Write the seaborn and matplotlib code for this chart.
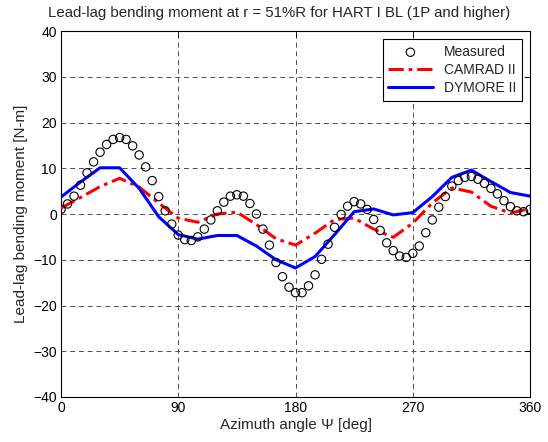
import numpy as np
import pandas as pd
import matplotlib
matplotlib.use("Agg")
import matplotlib.pyplot as plt
import seaborn as sns

# Measured lead-lag bending moment, every 5 deg of azimuth
measured_psi = list(range(0, 361, 5))
measured_moment = [
    1.0, 2.2, 3.9, 6.3, 9.0, 11.4, 13.5, 15.2, 16.3, 16.7,
    16.3, 14.9, 12.9, 10.3, 7.3, 3.8, 0.7, -2.2, -4.6, -5.6,
    -5.8, -5.0, -3.3, -1.3, 0.7, 2.6, 3.9, 4.2, 3.9, 2.3,
    0.0, -3.3, -6.8, -10.6, -13.7, -16.0, -17.2, -17.2, -15.7, -13.3,
    -9.9, -6.6, -2.9, -0.1, 1.7, 2.7, 2.2, 1.0, -1.2, -3.6,
    -6.3, -8.0, -9.2, -9.5, -8.6, -7.0, -4.1, -1.3, 1.5, 3.8,
    6.1, 7.3, 8.0, 8.2, 7.6, 6.7, 5.6, 4.4, 2.9, 1.6,
    0.7, 0.5, 1.0,
]

# Predictions, every 15 deg of azimuth
pred_psi = list(range(0, 361, 15))
camrad = [
    1.3, 3.6, 6.0, 7.8, 5.9, 2.4, -0.9, -1.8, 0.0, 0.4,
    -2.3, -5.4, -6.8, -4.2, -1.2, -0.9, -3.3, -5.1, -2.0, 2.4,
    5.7, 4.8, 1.7, 0.2, 1.2,
]
dymore = [
    3.7, 7.0, 10.1, 10.1, 5.6, -0.6, -4.5, -5.5, -4.7, -4.7,
    -7.0, -10.0, -11.8, -9.3, -4.5, 0.5, 1.1, -0.2, 0.3, 3.8,
    8.0, 9.6, 7.1, 4.7, 3.9,
]

x_ticks = [0, 90, 180, 270, 360]
y_ticks = list(range(-40, 41, 10))

sns.set_style("white")
plt.rcParams["font.family"] = ["Liberation Sans", "DejaVu Sans"]
plt.rcParams["mathtext.fontset"] = "dejavusans"

fig = plt.figure(figsize=(5.48, 4.42), dpi=100)
ax = fig.add_axes([61 / 548, 1 - 397 / 442, 469 / 548, 366 / 442])

meas_df = pd.DataFrame({"psi": measured_psi, "moment": measured_moment})
pred_df = pd.DataFrame({"psi": pred_psi, "camrad": camrad, "dymore": dymore})

sns.scatterplot(data=meas_df, x="psi", y="moment", ax=ax, marker="o", s=36,
                facecolors="none", edgecolor="black", linewidth=0.8,
                label="Measured", zorder=4)
sns.lineplot(data=pred_df, x="psi", y="camrad", ax=ax, color="#ff0000",
             linewidth=2.2, linestyle=(0, (5.0, 1.6, 1.2, 1.6)),
             label="CAMRAD II", zorder=3)
sns.lineplot(data=pred_df, x="psi", y="dymore", ax=ax, color="#0000ff",
             linewidth=2.2, label="DYMORE II", zorder=3)

ax.set_xlim(0, 360)
ax.set_ylim(-40, 40)
ax.set_xticks(x_ticks)
ax.set_yticks(y_ticks)
ax.tick_params(direction="in", length=4, width=0.6, top=True, right=True,
               labelsize=10, colors="black", pad=3)
ax.grid(True, linestyle=(0, (5, 4)), color="0.3", linewidth=0.7)
ax.set_axisbelow(True)
for side in ax.spines.values():
    side.set_visible(True)
    side.set_color("black")
    side.set_linewidth(0.8)

fig.text(279 / 548, 1 - 13 / 442,
         "Lead-lag bending moment at r = 51%R for HART I BL (1P and higher)",
         fontsize=10.8, ha="center", va="center")
ax.set_xlabel("Azimuth angle Ψ [deg]", fontsize=11, labelpad=2)
ax.set_ylabel("Lead-lag bending moment [N-m]", fontsize=11, labelpad=4)

leg = ax.legend(loc="upper right", fontsize=10, frameon=True, fancybox=False,
                edgecolor="black", framealpha=1, borderaxespad=0.6,
                handlelength=3.2, borderpad=0.4, labelspacing=0.3)
leg.get_frame().set_linewidth(0.8)

fig.savefig("out.png", dpi=100)
